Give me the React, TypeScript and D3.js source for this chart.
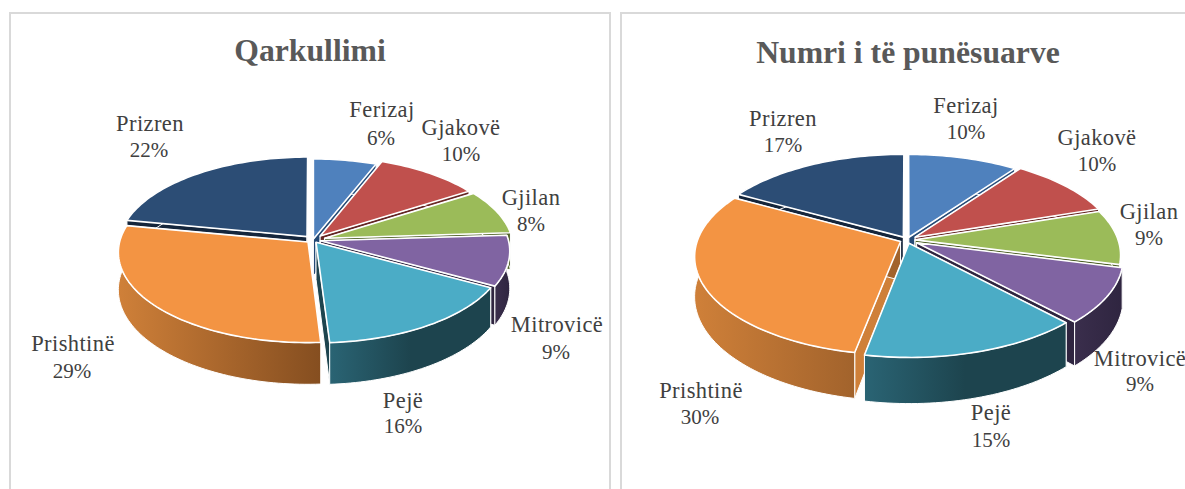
import React from "react";
import * as d3 from "d3";

const categories = ["Ferizaj", "Gjakovë", "Gjilan", "Mitrovicë", "Pejë", "Prishtinë", "Prizren"];
const turnover = [6, 10, 8, 9, 16, 29, 22];
const employees = [10, 10, 9, 9, 15, 30, 17];

const topColors = ["#4f81bd", "#c0504d", "#9bbb59", "#8064a2", "#4bacc6", "#f39443", "#2c4d75"];
const wallLeft = ["#2f5f96", "#7a2f2c", "#5f7536", "#3a2e4c", "#2a6474", "#cf8039", "#15263c"];
const wallRightA = ["#254a75", "#632523", "#4f6228", "#2f2540", "#1d444e", "#854e20", "#0f1e30"];
const wallRightB = ["#254a75", "#632523", "#4f6228", "#2f2540", "#1d444e", "#a2632c", "#0f1e30"];
const wallMid = [1, 1, 1, 1, 0.5, 1, 1];

const FONT = "'Liberation Serif', serif";

type Cfg = {
  id: string; title: string; titleX: number; titleY: number; values: number[]; wallRight: string[];
  cx: number; cy: number; rx: number; ry: number; k: number; depth: number;
  explode: number[]; labels: [number, number, number, number][];
};

const charts: Cfg[] = [
  {
    id: "a", title: "Qarkullimi", titleX: 310, titleY: 61, values: turnover, wallRight: wallRightA,
    cx: 313, cy: 240, rx: 188, ry: 89, k: 0.11, depth: 37,
    explode: [0.012, 0.06, 0.065, 0.04, 0.03, 0.035, 0.05],
    labels: [[382, 117, 381, 145], [461, 135, 461, 161], [531, 205, 531, 231], [557, 332, 556, 359],
      [403, 408, 403, 433], [73, 351, 72, 378], [150, 131, 149, 157]],
  },
  {
    id: "b", title: "Numri i të punësuarve", titleX: 908, titleY: 63, values: employees, wallRight: wallRightB,
    cx: 907, cy: 240, rx: 203, ry: 96, k: 0.15, depth: 39,
    explode: [0.03, 0.05, 0.04, 0.055, 0.035, 0.035, 0.035],
    labels: [[966, 113, 966, 139], [1097, 145, 1097, 171], [1149, 219, 1149, 245], [1140, 366, 1140, 391],
      [991, 420, 991, 447], [701, 398, 700, 424], [783, 126, 783, 152]],
  },
];

function Pie({ c }: { c: Cfg }) {
  const arcs = d3.pie<number>().sort(null).value((d) => d)(c.values);
  const project = (u: number, v: number, h: number): [number, number] => {
    const s = 1 / (1 - c.k * v);
    return [c.cx + c.rx * u * s, c.cy + (c.ry * v + c.depth * h) * s];
  };
  const line = d3.line();
  const slices = arcs.map((a, i) => {
    const mid = (a.startAngle + a.endAngle) / 2;
    const e = c.explode[i];
    const ou = e * Math.sin(mid);
    const ov = -e * Math.cos(mid);
    const at = (r: number, t: number, h: number) =>
      project(ou + r * Math.sin(t), ov - r * Math.cos(t), h);
    const n = Math.max(8, Math.ceil((a.endAngle - a.startAngle) * 40));
    const ts = d3.range(n + 1).map((j) => a.startAngle + ((a.endAngle - a.startAngle) * j) / n);
    const rimTop = ts.map((t) => at(1, t, 0));
    const rimBottom = ts.map((t) => at(1, t, 1));
    const top = line([at(0, 0, 0), ...rimTop])! + "Z";
    const wall = line([...rimTop, ...rimBottom.slice().reverse()])! + "Z";
    const face1 = line([at(0, 0, 0), at(1, a.startAngle, 0), at(1, a.startAngle, 1), at(0, 0, 1)])! + "Z";
    const face2 = line([at(0, 0, 0), at(1, a.endAngle, 0), at(1, a.endAngle, 1), at(0, 0, 1)])! + "Z";
    return { i, top, wall, face1, face2, order: ov + 0.6 * -Math.cos(mid) };
  });
  const ordered = d3.sort(slices, (s) => s.order);
  return (
    <g>
      <defs>
        {c.values.map((_, i) => (
          <linearGradient key={i} id={`w${c.id}${i}`} x1="0" x2="1" y1="0" y2="0">
            <stop offset="0" stopColor={wallLeft[i]} />
            <stop offset={wallMid[i]} stopColor={c.wallRight[i]} />
          </linearGradient>
        ))}
      </defs>
      {ordered.map((s) => (
        <g key={s.i}>
          <path d={s.face1} fill={wallLeft[s.i]} stroke="#fff" strokeWidth={1} strokeLinejoin="round" />
          <path d={s.face2} fill={c.wallRight[s.i]} stroke="#fff" strokeWidth={1} strokeLinejoin="round" />
          <path d={s.wall} fill={`url(#w${c.id}${s.i})`} stroke="#fff" strokeWidth={1} strokeLinejoin="round" />
          <path d={s.top} fill={topColors[s.i]} stroke="#fff" strokeWidth={1.6} strokeLinejoin="round" />
        </g>
      ))}
      <text x={c.titleX} y={c.titleY} textAnchor="middle" fontFamily={FONT} fontWeight={700} fontSize={31.7} fill="#595959">
        {c.title}
      </text>
      {c.labels.map((l, i) => (
        <g key={i} fontFamily={FONT} fill="#404040" textAnchor="middle">
          <text x={l[0]} y={l[1]} fontSize={22.5} letterSpacing={0.4}>{categories[i]}</text>
          <text x={l[2]} y={l[3]} fontSize={21}>{`${c.values[i]}%`}</text>
        </g>
      ))}
    </g>
  );
}

export default function App() {
  return (
    <svg width={1185} height={489} style={{ position: "fixed", left: 0, top: 0, background: "#fff" }}>
      <rect x={10} y={13} width={600} height={500} fill="#fff" stroke="#d9d9d9" strokeWidth={2} />
      <rect x={621} y={13} width={600} height={500} fill="#fff" stroke="#d9d9d9" strokeWidth={2} />
      {charts.map((c) => <Pie key={c.id} c={c} />)}
    </svg>
  );
}
